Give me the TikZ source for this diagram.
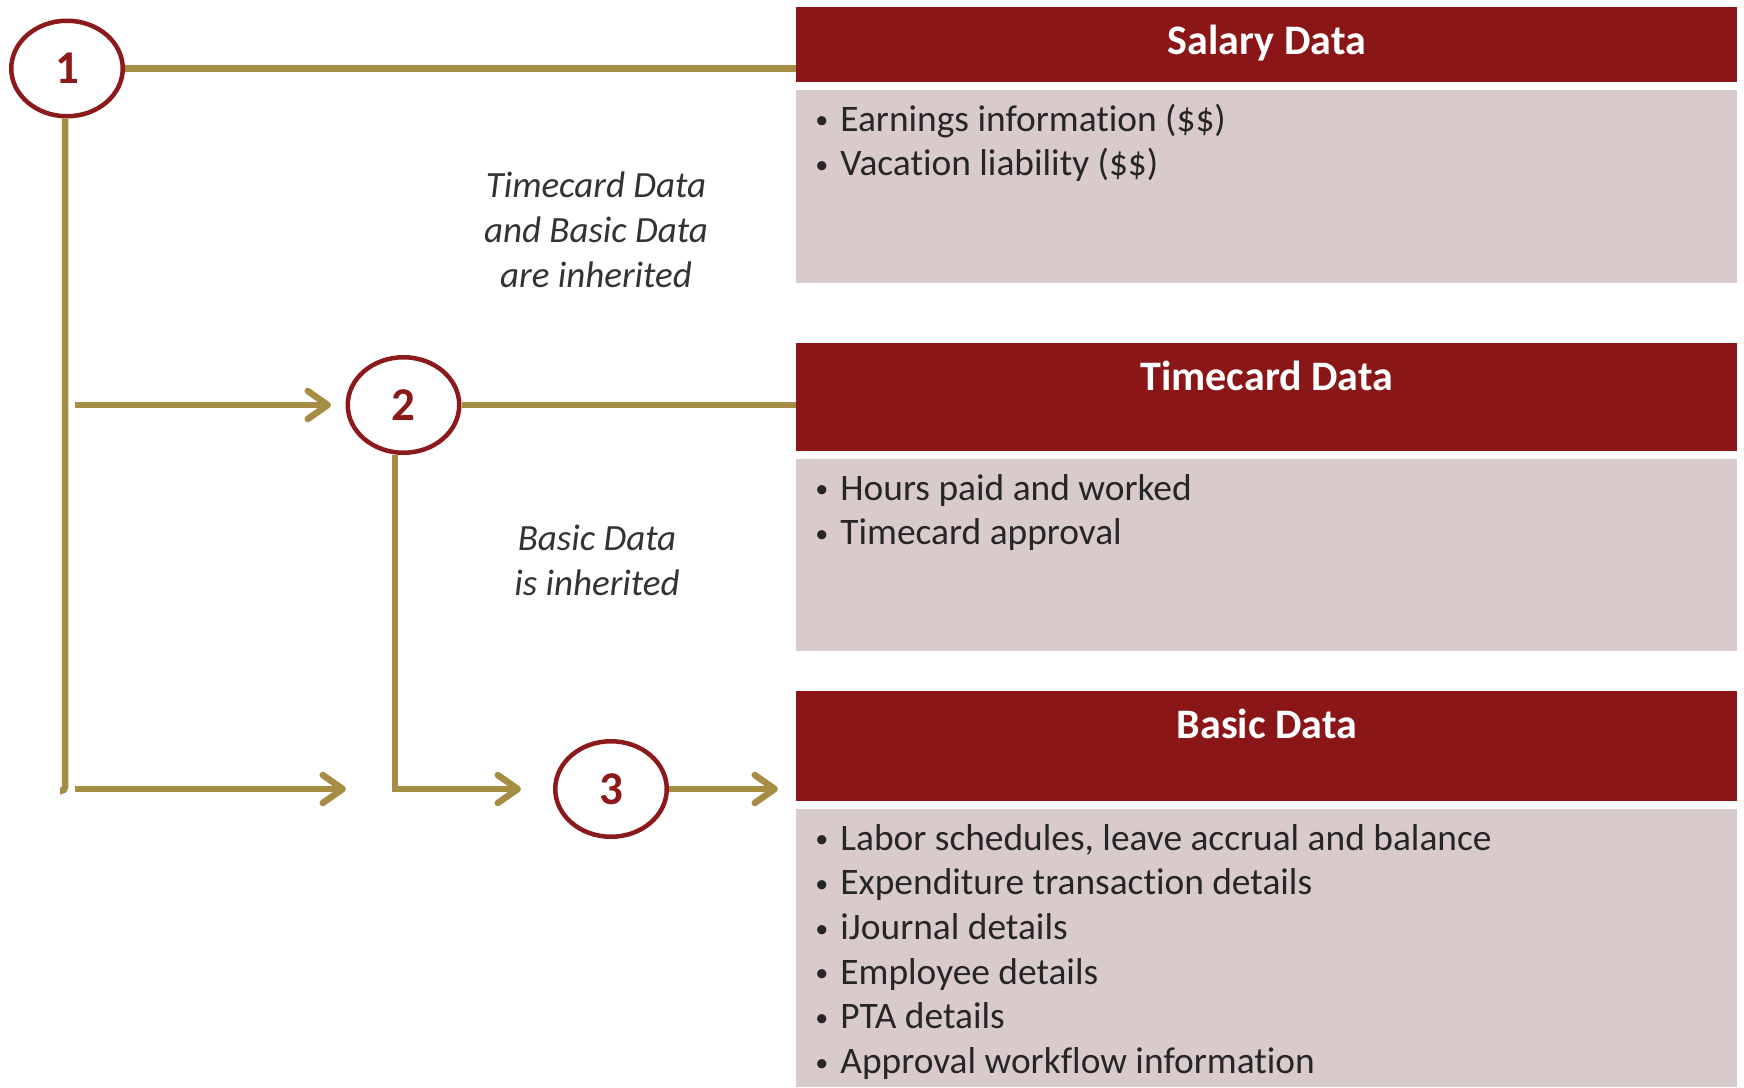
\documentclass[tikz,border=0pt]{standalone}
\usepackage{fontspec}
\setmainfont{Carlito}[Ligatures=CommonOff]
\usetikzlibrary{shapes.geometric, arrows.meta}
\definecolor{redhead}{RGB}{139,22,23}
\definecolor{rosebody}{RGB}{217,203,203}
\definecolor{goldline}{RGB}{165,142,68}
\definecolor{circred}{RGB}{140,26,26}
\definecolor{textgray}{RGB}{38,38,38}
\definecolor{labgray}{RGB}{51,51,51}

\tikzset{
  gold/.style={draw=goldline, line width=3.25pt},
  garrow/.style={gold, -{Straight Barb[length=10pt, width=14pt, round]}},
  num/.style={draw=circred, line width=2.25pt, ellipse, inner sep=0pt,
    minimum width=55.75pt, minimum height=47.75pt, text=circred,
    font=\fontsize{23.5}{28}\selectfont\bfseries},
  head/.style={fill=redhead, anchor=north west, inner sep=0pt,
    minimum width=470.5pt, text height=23.75pt, text=white,
    font=\fontsize{21}{25}\selectfont\bfseries},
  body/.style={fill=rosebody, anchor=north west, inner sep=0pt,
    minimum width=470.5pt},
  item/.style={anchor=base west, inner sep=0pt, text=textgray,
    font=\fontsize{18.7}{22}\selectfont},
  note/.style={anchor=base, align=center, inner sep=0pt, text=labgray,
    font=\fontsize{18.5}{22.3}\selectfont\itshape}
}
\newcommand{\bul}{\makebox[12.5pt][l]{\raisebox{1.2pt}{\fontsize{13}{13}\selectfont\textbullet}}}

\begin{document}
\begin{tikzpicture}[x=0.5pt, y=-0.5pt]
    \useasboundingbox (0,0) rectangle (1744,1087);

    % data boxes
    \node(salhead)[head, text depth=13.75pt] at (796,7) {Salary Data};
    \node(salbody)[body, minimum height=96.5pt] at (796,90) {};
    \node(tchead)[head, text depth=30.25pt] at (796,343) {Timecard Data};
    \node(tcbody)[body, minimum height=96pt] at (796,459) {};
    \node(bashead)[head, text depth=31.25pt] at (796,691) {Basic Data};
    \node(basbody)[body, minimum height=139pt] at (796,809) {};

    \foreach \txt [count=\i] in {Earnings information (\$\$), Vacation liability (\$\$)}
        \node(sal\i)[item] at (815, 131+44.7*\i-44.7) {\bul\txt};
    \foreach \txt [count=\i] in {Hours paid and worked, Timecard approval}
        \node(tc\i)[item] at (815, 500+44.7*\i-44.7) {\bul\txt};
    \foreach \txt [count=\i] in {{Labor schedules, leave accrual and balance},
        Expenditure transaction details, iJournal details, Employee details,
        PTA details, Approval workflow information}
        \node(bas\i)[item] at (815, 850+44.7*\i-44.7) {\bul\txt};

    % numbered levels
    \node(c1)[num] at (67,68.5) {1};
    \node(c2)[num] at (403.5,405) {2};
    \node(c3)[num] at (611,789) {3};

    % base anchor sits on the last line
    \node(inh1)[note] at (596,287) {Timecard Data\\and Basic Data\\are inherited};
    \node(inh2)[note] at (597,595) {Basic Data\\is inherited};

    \coordinate(k1) at (65,791);
    \coordinate(a1) at (75,405);
    \coordinate(b1) at (75,789);
    \coordinate(b1e) at (346,789);

    \draw[gold] (c1) -- (c1 -| salhead.west);
    \draw[gold, rounded corners=2pt] (c1.south -| k1) -- (k1) -- ++(-5,0);
    \draw[garrow, shorten >=7.25pt] (a1) -- (c2);
    \draw[garrow] (b1) -- (b1e);
    \draw[gold] (c2) -- (c2 -| tchead.west);
    \draw[garrow, shorten >=16pt] ([xshift=-4.25pt]c2.south) |- (c3);
    \draw[garrow, shorten >=9pt] (c3) -- (c3 -| bashead.west);

\end{tikzpicture}
\end{document}
